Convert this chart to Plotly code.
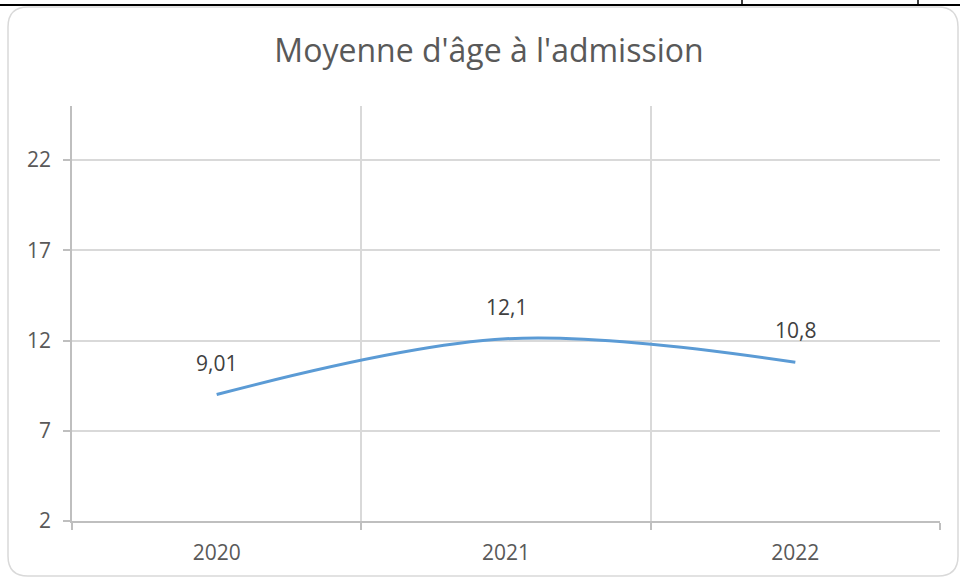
import plotly.graph_objects as go

# ---- data ----
years = ["2020", "2021", "2022"]
mean_age = [9.01, 12.1, 10.8]
y_ticks = [2, 7, 12, 17, 22]
title_text = "Moyenne d'âge à l'admission"

labels = [str(v).replace(".", ",") for v in mean_age]

W, H = 960, 578
L, R, T, B = 72, 20, 106, 57
pw, ph = W - L - R, H - T - B

def px_x(x):
    return (x - L) / pw

def px_y(y):
    return (H - B - y) / ph

FONT = "Open Sans, Liberation Sans, sans-serif"
GRID = "#d9d9d9"
AXIS = "#bfbfbf"

fig = go.Figure()
fig.add_trace(go.Scatter(
    x=years, y=mean_age, mode="lines",
    line=dict(color="#5b9bd5", width=3, shape="spline", smoothing=1.0),
    hoverinfo="skip", showlegend=False,
))

for i, (v, t) in enumerate(zip(mean_age, labels)):
    fig.add_annotation(x=i, y=v, xref="x", yref="y", text=t, showarrow=False,
                       yshift=32, yanchor="middle", xanchor="center",
                       font=dict(family=FONT, size=21, color="#404040"))

# rounded chart border
x0, x1 = px_x(8), px_x(958)
y0, y1 = px_y(576), px_y(7)
rx, ry = 20 / pw, 20 / ph
path = (f"M {x0+rx},{y1} L {x1-rx},{y1} Q {x1},{y1} {x1},{y1-ry} "
        f"L {x1},{y0+ry} Q {x1},{y0} {x1-rx},{y0} L {x0+rx},{y0} "
        f"Q {x0},{y0} {x0},{y0+ry} L {x0},{y1-ry} Q {x0},{y1} {x0+rx},{y1} Z")
fig.add_shape(type="path", path=path, xref="paper", yref="paper",
              line=dict(color="#d9d9d9", width=1.5), layer="below")

# document table line above the chart
fig.add_shape(type="line", xref="paper", yref="paper",
              x0=px_x(0), x1=px_x(960), y0=px_y(5), y1=px_y(5),
              line=dict(color="black", width=2))
for xv in (742, 918):
    fig.add_shape(type="line", xref="paper", yref="paper",
                  x0=px_x(xv), x1=px_x(xv), y0=px_y(5), y1=px_y(-2),
                  line=dict(color="black", width=1.5))

fig.update_layout(
    width=W, height=H,
    margin=dict(l=L, r=R, t=T, b=B),
    paper_bgcolor="white", plot_bgcolor="white",
    title=dict(text=title_text, x=489 / W, xanchor="center",
               y=1 - 51 / H, yanchor="middle", xref="container", yref="container",
               font=dict(family=FONT, size=32, color="#595959")),
    xaxis=dict(type="category", range=[-0.5, 2.5], tickson="boundaries",
               showgrid=True, gridcolor=GRID, gridwidth=1.5,
               showline=True, linecolor=AXIS, linewidth=1.5,
               ticks="outside", ticklen=7, tickcolor=AXIS, tickwidth=1.5,
               ticklabelstandoff=12,
               tickfont=dict(family=FONT, size=21, color="#595959"),
               fixedrange=True, zeroline=False),
    yaxis=dict(range=[2, 25], tickvals=y_ticks,
               showgrid=True, gridcolor=GRID, gridwidth=1.5,
               showline=True, linecolor=AXIS, linewidth=1.5,
               ticks="outside", ticklen=7, tickcolor=AXIS, tickwidth=1.5,
               ticklabelstandoff=8,
               tickfont=dict(family=FONT, size=21, color="#595959"),
               zeroline=False, fixedrange=True),
)

fig.write_html("out.html", config={"displayModeBar": False},
               post_script="document.body.style.margin='0';document.body.style.overflow='hidden';")
